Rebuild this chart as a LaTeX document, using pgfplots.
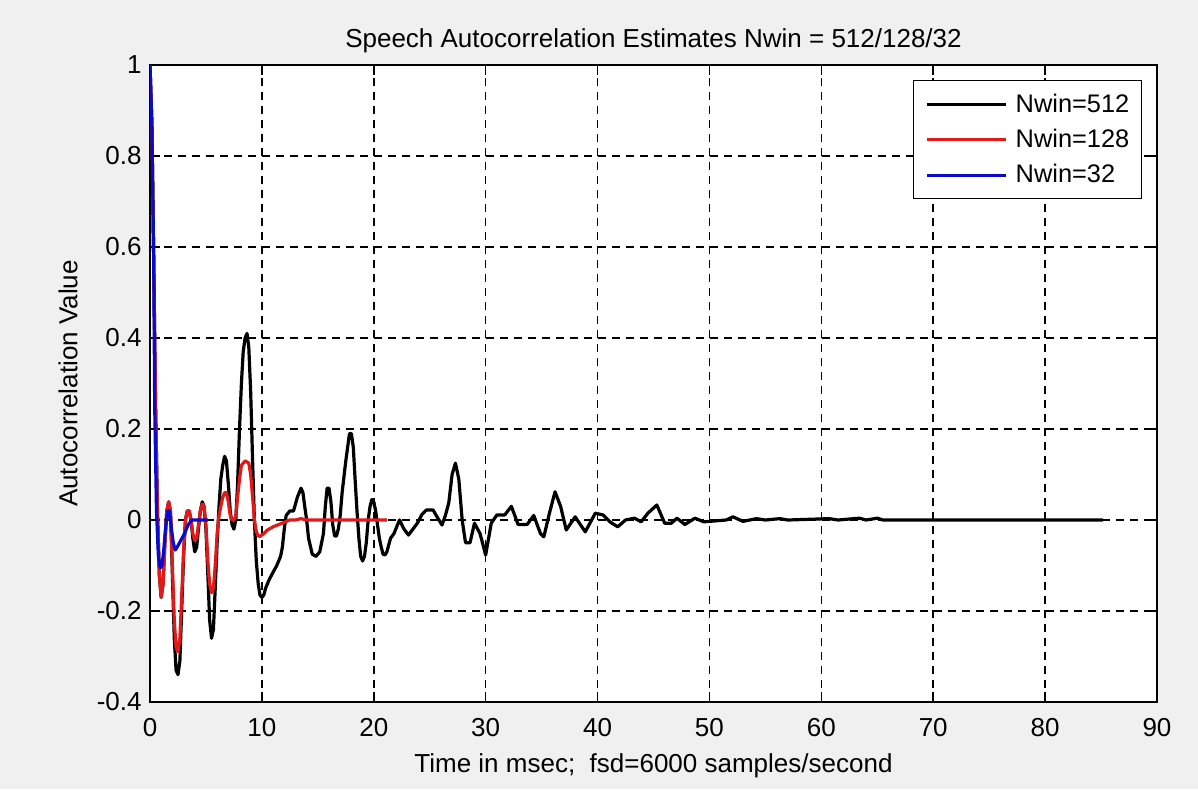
\documentclass[border=0pt]{standalone}
\usepackage{pgfplots}
\pgfplotsset{compat=1.18}
\usepackage{fontspec}
\setmainfont{Liberation Sans}
\definecolor{figbg}{RGB}{240,240,240}
\definecolor{mred}{RGB}{225,25,25}
\definecolor{mblue}{RGB}{10,10,205}
\begin{document}
\begin{tikzpicture}
\fill[figbg] (-75pt,-43.5pt) rectangle (524pt,351pt);
\begin{axis}[
  scale only axis,
  width=503.5pt, height=318.5pt,
  at={(0pt,0pt)}, anchor=south west,
  xmin=0, xmax=90, ymin=-0.4, ymax=1,
  axis background/.style={fill=white},
  axis line style={black, line width=0.8pt},
  xtick={0,10,...,90},
  ytick={-0.4,-0.2,0,0.2,0.4,0.6,0.8,1},
  xticklabels={0,10,20,30,40,50,60,70,80,90},
  yticklabels={-0.4,-0.2,0,0.2,0.4,0.6,0.8,1},
  tick align=inside,
  major tick length=5pt,
  tick style={black, line width=0.8pt},
  grid=major,
  major grid style={black, line width=0.8pt, dash pattern=on 4pt off 3pt},
  every tick label/.append style={font=\fontsize{13}{15}\selectfont, inner sep=0pt},
  xticklabel style={anchor=north, yshift=-8pt},
  yticklabel style={anchor=east, xshift=-4pt},
  title={Speech Autocorrelation Estimates Nwin = 512/128/32},
  title style={font=\fontsize{13}{15}\selectfont, at={(rel axis cs:0.5,1)}, anchor=base, yshift=3pt, inner sep=0pt},
  xlabel={Time in msec;\ \ fsd=6000 samples/second},
  xlabel style={font=\fontsize{13}{15}\selectfont, at={(rel axis cs:0.5,0)}, anchor=center, yshift=-32pt, inner sep=0pt},
  ylabel={Autocorrelation Value},
  ylabel style={font=\fontsize{13}{15}\selectfont, at={(rel axis cs:0,0.5)}, anchor=center, yshift=41pt, inner sep=0pt},
  legend style={at={(rel axis cs:1,1)}, anchor=north east, xshift=-7.5pt, yshift=-7.5pt,
    draw=black, line width=0.6pt, fill=white, inner xsep=6pt, inner ysep=6.5pt,
    row sep=7pt, column sep=4pt, font=\fontsize{12.7}{15}\selectfont,
    nodes={inner sep=0pt}},
  legend cell align=left,
  legend image code/.code={\draw[#1] (0pt,0pt) -- (39.5pt,0pt);},
  every axis plot/.append style={line width=1.6pt, line join=round},
]
\addplot[black] coordinates {
(0,1.0) (0.167,0.87) (0.333,0.57) (0.5,0.25) (0.667,0.02) (0.833,-0.12) (1.0,-0.17) (1.17,-0.14) (1.33,-0.05) (1.5,0.02) (1.67,0.04) (1.83,0.02)
(2.0,-0.12) (2.17,-0.26) (2.33,-0.33) (2.5,-0.34) (2.67,-0.31) (2.83,-0.20) (3.0,-0.08) (3.17,0.0) (3.33,0.02) (3.5,0.02) (3.67,0.0) (3.83,-0.04)
(4.0,-0.07) (4.17,-0.06) (4.33,-0.02) (4.5,0.02) (4.67,0.04) (4.83,0.03) (5.0,-0.02) (5.17,-0.12) (5.33,-0.22) (5.5,-0.26) (5.67,-0.24) (5.83,-0.15)
(6.0,-0.05) (6.17,0.03) (6.33,0.09) (6.5,0.12) (6.67,0.14) (6.83,0.13) (7.0,0.08) (7.17,0.02) (7.33,-0.01) (7.5,-0.02) (7.67,0.0) (7.83,0.08)
(8.0,0.20) (8.17,0.30) (8.33,0.37) (8.5,0.40) (8.67,0.41) (8.83,0.38) (9.0,0.28) (9.17,0.13) (9.33,0.0) (9.5,-0.09) (9.67,-0.14) (9.83,-0.165)
(10.0,-0.17) (10.17,-0.165) (10.33,-0.15) (10.67,-0.13) (11.0,-0.115) (11.33,-0.1) (11.67,-0.08) (11.83,-0.06) (12.0,-0.02) (12.17,0.01) (12.5,0.02) (12.83,0.02)
(13.17,0.05) (13.5,0.07) (13.67,0.06) (13.83,0.03) (14.0,0.0) (14.17,-0.04) (14.5,-0.075) (14.83,-0.08) (15.17,-0.07) (15.5,-0.03) (15.67,0.03) (15.83,0.07)
(16.0,0.07) (16.17,0.04) (16.33,-0.01) (16.5,-0.035) (16.67,-0.035) (16.83,-0.02) (17.0,0.01) (17.17,0.06) (17.5,0.13) (17.83,0.19) (18.0,0.19) (18.17,0.16)
(18.33,0.09) (18.5,0.02) (18.67,-0.04) (18.83,-0.08) (19.0,-0.09) (19.17,-0.08) (19.33,-0.05) (19.5,0.0) (19.67,0.03) (19.83,0.045) (20.0,0.04) (20.17,0.02)
(20.33,-0.01) (20.5,-0.04) (20.67,-0.06) (20.83,-0.075) (21.0,-0.077) (21.17,-0.07) (21.5,-0.04) (21.8,-0.03) (22.3,0.0) (22.7,-0.02) (23.1,-0.033) (23.5,-0.02)
(23.9,-0.007) (24.3,0.012) (24.7,0.022) (25.3,0.022) (25.7,0.005) (26.1,-0.011) (26.4,0.01) (26.7,0.037) (27.0,0.10) (27.3,0.125) (27.6,0.09) (27.9,0.0)
(28.2,-0.05) (28.6,-0.05) (29.0,-0.007) (29.5,-0.03) (30.0,-0.077) (30.5,-0.007) (31.0,0.011) (31.7,0.011) (32.3,0.03) (32.9,-0.01) (33.7,-0.01) (34.3,0.01)
(34.9,-0.03) (35.2,-0.037) (35.7,0.015) (36.2,0.062) (36.7,0.03) (37.2,-0.022) (38.0,0.007) (38.9,-0.026) (39.8,0.015) (40.5,0.011) (41.1,-0.004) (41.8,-0.015)
(42.5,0.0) (43.3,0.004) (43.9,-0.004) (44.5,0.015) (45.3,0.033) (46.0,-0.007) (46.6,-0.007) (47.1,0.004) (47.8,-0.01) (48.7,0.004) (49.5,-0.004) (50.5,-0.002)
(51.5,0.0) (52.1,0.007) (53.0,-0.003) (54.2,0.003) (55.0,0.0) (56.3,0.003) (57.0,0.0) (60.7,0.003) (61.5,0.0) (63.4,0.004) (64.0,0.0) (65.0,0.004)
(65.5,0.0) (85.17,0.0)
};
\addlegendentry{Nwin=512}
\addplot[mred] coordinates {
(0,1.0) (0.167,0.87) (0.333,0.57) (0.5,0.25) (0.667,0.02) (0.833,-0.12) (1.0,-0.17) (1.17,-0.14) (1.33,-0.05) (1.5,0.02) (1.67,0.04) (1.83,0.02)
(2.0,-0.10) (2.17,-0.22) (2.33,-0.28) (2.5,-0.29) (2.67,-0.26) (2.83,-0.17) (3.0,-0.07) (3.17,0.0) (3.33,0.02) (3.5,0.02) (3.67,0.0) (3.83,-0.03)
(4.0,-0.045) (4.17,-0.04) (4.33,-0.01) (4.5,0.02) (4.67,0.035) (4.83,0.03) (5.0,-0.01) (5.17,-0.09) (5.33,-0.14) (5.5,-0.16) (5.67,-0.15) (5.83,-0.10)
(6.0,-0.03) (6.17,0.01) (6.33,0.03) (6.5,0.05) (6.67,0.06) (6.83,0.06) (7.0,0.04) (7.17,0.01) (7.33,0.0) (7.5,0.0) (7.67,0.01) (7.83,0.05)
(8.0,0.09) (8.17,0.12) (8.5,0.13) (8.83,0.125) (9.0,0.10) (9.17,0.05) (9.33,0.0) (9.5,-0.025) (9.67,-0.035) (9.83,-0.036) (10.17,-0.03) (10.5,-0.022)
(11.0,-0.015) (11.5,-0.01) (12.0,-0.005) (12.5,0.0) (13.0,0.0) (13.5,0.003) (14.0,0.0) (21.17,0.0)
};
\addlegendentry{Nwin=128}
\addplot[mblue] coordinates {
(0,1.0) (0.167,0.87) (0.333,0.57) (0.42,0.25) (0.58,0.02) (0.75,-0.08) (0.92,-0.105) (1.08,-0.10) (1.25,-0.06) (1.42,-0.01) (1.58,0.02) (1.75,0.02)
(1.92,-0.02) (2.08,-0.05) (2.25,-0.066) (2.42,-0.06) (2.75,-0.045) (3.08,-0.03) (3.42,-0.01) (3.75,0.0) (4.08,0.0) (5.17,0.0)
};
\addlegendentry{Nwin=32}
\end{axis}
\end{tikzpicture}
\end{document}
